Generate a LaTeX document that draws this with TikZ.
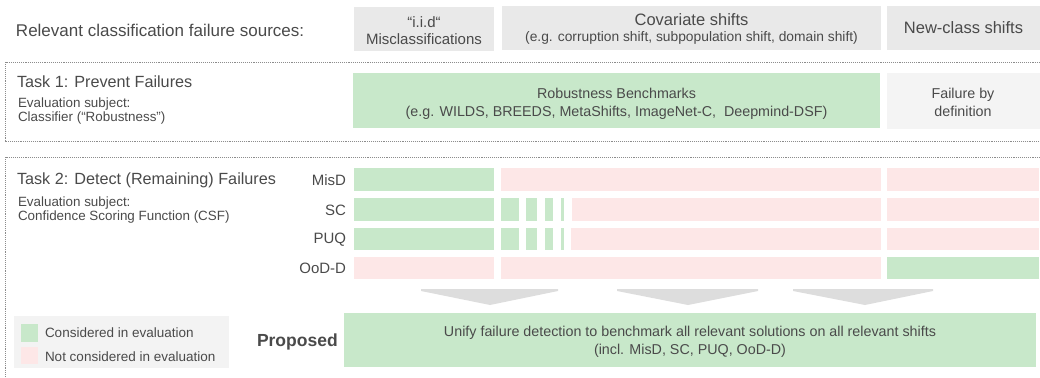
\documentclass[tikz,border=0pt]{standalone}
\usepackage{fontspec}
\setmainfont{Liberation Sans}
\definecolor{txtc}{HTML}{4A4A4A}
\definecolor{hdr}{HTML}{E9E9E9}
\definecolor{fbd}{HTML}{F4F4F4}
\definecolor{grn}{HTML}{C8E8CA}
\definecolor{pnk}{HTML}{FDE7E7}
\definecolor{chevc}{HTML}{DDDDDD}
\definecolor{legc}{HTML}{F3F3F3}
\definecolor{dotc}{HTML}{8C8C8C}
\newcommand\fsz[2]{\fontsize{#1}{#2}\selectfont}
\newcommand\boxat[6]{\node[box,fill=#6,minimum width={#4pt-#2pt},minimum height={#5pt-#3pt}] (#1) at (#2,#3) {};}
\begin{document}
\begin{tikzpicture}[x=1pt,y=-1pt,
  box/.style={draw=none,inner sep=0pt,outer sep=0pt,anchor=north west},
  lbl/.style={text=txtc,inner sep=0pt,outer sep=0pt},
  dotline/.style={draw=dotc,line width=0.9pt,densely dotted},
  chevron/.style={fill=chevc,draw=none}]
\useasboundingbox (0,0) rectangle (1040,377);

% header
\node[lbl,anchor=west,font=\fsz{17}{20}] (hdrtxt) at (16,30) {Relevant classification failure sources:};
\boxat{iid}{354}{7}{494}{51}{hdr}
\boxat{cov}{502}{6}{881}{50}{hdr}
\boxat{newc}{887}{6}{1040}{50}{hdr}
\node[lbl,align=center,font=\fsz{15}{17}] (iidt) at (424,30.5) {“i.i.d“\\Misclassifications};
\node[lbl,font=\fsz{16.5}{20}] (covt) at (691.5,20) {Covariate shifts};
\node[lbl,font=\fsz{13.8}{16}] (covs) at (691.5,38) {(e.g. corruption shift, subpopulation shift, domain shift)};
\node[lbl,font=\fsz{16.5}{20}] (newct) at (newc.center) {New-class shifts};

% task 1
\draw[dotline] (1040,62) -- (5,62) -- (5,141) -- (1040,141);
\node[lbl,anchor=west,font=\fsz{16.2}{19}] (t1) at (17,82) {Task 1: Prevent Failures};
\node[lbl,anchor=west,align=left,font=\fsz{13.4}{13.5}] (t1s) at (18,111) {Evaluation subject:\\Classifier (“Robustness”)};
\boxat{rob}{353}{73}{880}{128}{grn}
\boxat{fbdbox}{887}{73}{1040}{129}{fbd}
\node[lbl,align=center,font=\fsz{14.3}{18}] (robt) at (616.5,104) {Robustness Benchmarks\\(e.g. WILDS, BREEDS, MetaShifts, ImageNet-C, \ Deepmind-DSF)};
\node[lbl,align=center,font=\fsz{14.3}{18}] (fbdt) at (963,102) {Failure by\\definition};

% task 2
\draw[dotline] (1040,157) -- (5,157) -- (5,377);
\node[lbl,anchor=west,font=\fsz{16.2}{19}] (t2) at (17,180) {Task 2: Detect (Remaining) Failures};
\node[lbl,anchor=west,align=left,font=\fsz{13.4}{13.5}] (t2s) at (18,210) {Evaluation subject:\\Confidence Scoring Function (CSF)};

\node[lbl,anchor=east,font=\fsz{15}{18}] (lmisd) at (346,180) {MisD};
\node[lbl,anchor=east,font=\fsz{15}{18}] (lsc) at (346,210) {SC};
\node[lbl,anchor=east,font=\fsz{15}{18}] (lpuq) at (346,239.5) {PUQ};
\node[lbl,anchor=east,font=\fsz{15}{18}] (lood) at (346,268.5) {OoD-D};

% MisD row
\boxat{m1}{354}{168}{494}{191}{grn}
\boxat{m2}{501}{168}{881}{191}{pnk}
\boxat{m3}{887}{168}{1039}{191}{pnk}
% SC row
\boxat{s1}{354}{198}{494}{221}{grn}
\boxat{s2}{501}{198}{519}{221}{grn}
\boxat{s3}{526}{198}{537}{221}{grn}
\boxat{s4}{545}{198}{553}{221}{grn}
\boxat{s5}{561}{198}{564}{221}{grn}
\boxat{s6}{572}{198}{881}{221}{pnk}
\boxat{s7}{887}{198}{1039}{221}{pnk}
% PUQ row
\boxat{p1}{354}{228}{494}{250}{grn}
\boxat{p2}{501}{228}{519}{250}{grn}
\boxat{p3}{526}{228}{537}{250}{grn}
\boxat{p4}{545}{228}{553}{250}{grn}
\boxat{p5}{561}{228}{564}{250}{grn}
\boxat{p6}{571}{228}{881}{250}{pnk}
\boxat{p7}{887}{228}{1039}{250}{pnk}
% OoD-D row
\boxat{o1}{354}{257}{494}{279}{pnk}
\boxat{o2}{501}{257}{881}{279}{pnk}
\boxat{o3}{887}{257}{1039}{279}{grn}

% chevrons
\fill[chevron] (421,289) -- (558,289) -- (558,291) -- (490,305) -- (421,291) -- cycle;
\fill[chevron] (617,289) -- (758,289) -- (758,291) -- (688,305) -- (617,291) -- cycle;
\fill[chevron] (793,289) -- (933,289) -- (933,291) -- (865,305) -- (793,291) -- cycle;

% legend
\boxat{legbox}{14}{316}{229}{368}{legc}
\boxat{legg}{21}{324}{38}{342}{grn}
\boxat{legp}{21}{347}{38}{364}{pnk}
\node[lbl,anchor=west,font=\fsz{13.5}{16}] (leggt) at (45,333) {Considered in evaluation};
\node[lbl,anchor=west,font=\fsz{13.5}{16}] (legpt) at (45,357) {Not considered in evaluation};

% proposed
\node[lbl,anchor=west,font=\fsz{17.5}{20}\bfseries] (prop) at (257,342) {Proposed};
\boxat{propbox}{344}{313}{1036}{367}{grn}
\node[lbl,align=center,font=\fsz{14.3}{18}] (propt) at (690,342) {Unify failure detection to benchmark all relevant solutions on all relevant shifts\\(incl. MisD, SC, PUQ, OoD-D)};
\end{tikzpicture}
\end{document}
